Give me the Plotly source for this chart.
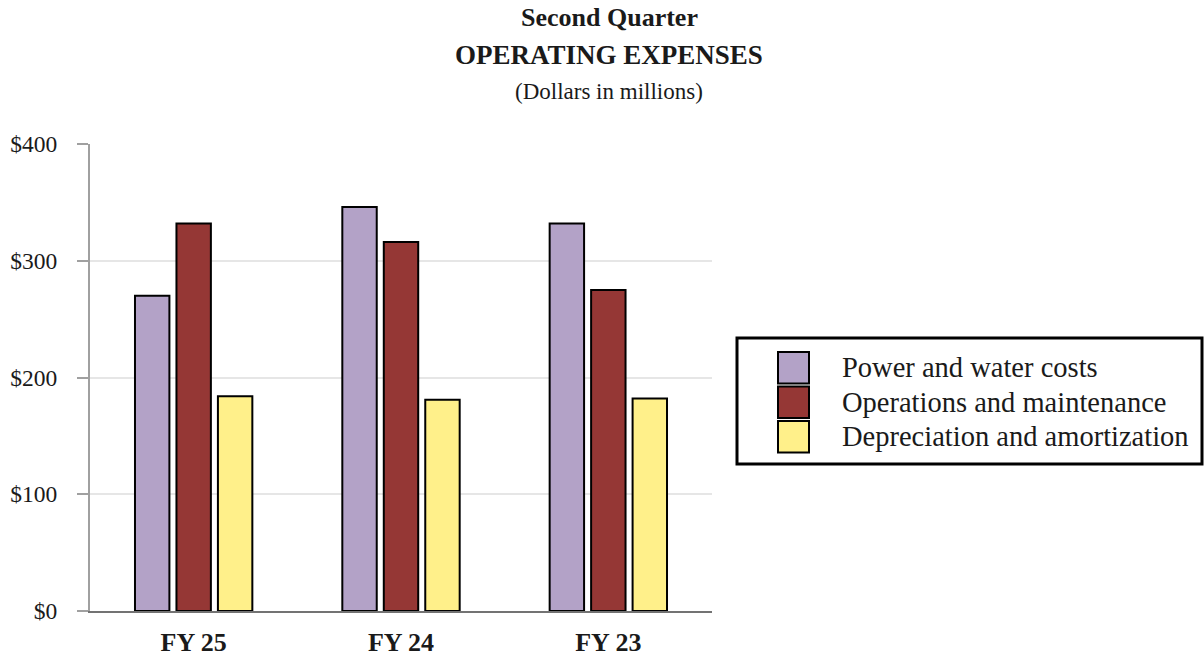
import plotly.graph_objects as go

categories = ["FY 25", "FY 24", "FY 23"]
series_names = ["Power and water costs", "Operations and maintenance", "Depreciation and amortization"]
power_water = [270, 346, 332]
operations = [332, 316, 275]
depreciation = [184, 181, 182]
series_values = [power_water, operations, depreciation]
series_colors = ["#b3a2c7", "#953735", "#fff08a"]

tick_vals = [0, 100, 200, 300, 400]
tick_text = ["$0", "$100", "$200", "$300", "$400"]

FONT = "Liberation Serif"

fig = go.Figure()
for name, vals, col in zip(series_names, series_values, series_colors):
    fig.add_trace(go.Bar(
        x=categories, y=vals, name=name,
        marker=dict(color=col, line=dict(color="#000000", width=2)),
        showlegend=False,
    ))

# plot area geometry in pixels (for paper conversions)
W, H = 1204, 656
ml, mr, mt, mb = 90, 492, 144, 45
pw, ph = W - ml - mr, H - mt - mb

def px_x(x):
    return (x - ml) / pw

def px_y(y):
    return (H - mb - y) / ph

annotations = [
    dict(text="<b>Second Quarter</b>", x=px_x(609), y=px_y(18), font=dict(size=26)),
    dict(text="<b>OPERATING EXPENSES</b>", x=px_x(609), y=px_y(55), font=dict(size=27)),
    dict(text="(Dollars in millions)", x=px_x(609), y=px_y(91), font=dict(size=23)),
]
for a in annotations:
    a.update(xref="paper", yref="paper", showarrow=False, xanchor="center", yanchor="middle")
    a["font"].update(family=FONT, color="#1a1a1a")

shapes = [dict(type="rect", xref="paper", yref="paper",
               x0=px_x(737), x1=px_x(1202), y0=px_y(464), y1=px_y(338),
               line=dict(color="#000000", width=3), fillcolor="rgba(0,0,0,0)")]

row_top0, row_pitch, sw_h = 352, 34.5, 31.5
for i, (name, col) in enumerate(zip(series_names, series_colors)):
    top = row_top0 + i * row_pitch
    shapes.append(dict(type="rect", xref="paper", yref="paper",
                       x0=px_x(778), x1=px_x(809), y0=px_y(top + sw_h), y1=px_y(top),
                       line=dict(color="#000000", width=2), fillcolor=col))
    annotations.append(dict(text=name, xref="paper", yref="paper", showarrow=False,
                            x=px_x(840), y=px_y(top + sw_h / 2), xanchor="left", yanchor="middle",
                            font=dict(family=FONT, size=28.5, color="#1a1a1a")))

fig.update_layout(
    width=W, height=H,
    margin=dict(l=ml, r=mr, t=mt, b=mb, autoexpand=False),
    paper_bgcolor="white", plot_bgcolor="white",
    barmode="group", bargap=0.4, bargroupgap=0.17,
    font=dict(family=FONT, color="#1a1a1a"),
    annotations=annotations, shapes=shapes,
    showlegend=False,
)
fig.update_yaxes(
    range=[0, 400], tickvals=tick_vals, ticktext=tick_text,
    showgrid=True, gridcolor="#e6e6e6", gridwidth=2,
    showline=True, linecolor="#a0a0a0", linewidth=2,
    ticks="outside", ticklen=11, tickcolor="#a0a0a0", tickwidth=2,
    ticklabelstandoff=15,
    tickfont=dict(family=FONT, size=23.5, color="#1a1a1a"),
    zeroline=False,
)
fig.update_xaxes(
    showline=True, linecolor="#737373", linewidth=2,
    ticks="", ticklabelstandoff=7,
    tickfont=dict(family=FONT, size=26, color="#1a1a1a", weight="bold"),
)

fig.write_html("out.html", config={"displayModeBar": False},
               post_script="document.body.style.margin='0px';document.body.style.overflow='hidden';")
